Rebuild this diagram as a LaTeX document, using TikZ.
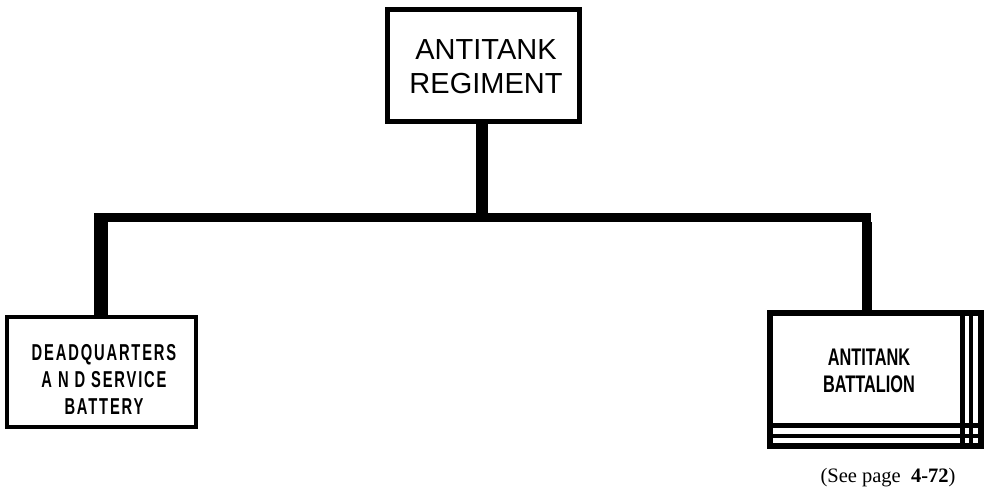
\documentclass[tikz,border=0pt]{standalone}
\usepackage{fontspec}
\setmainfont{Liberation Sans}
\newfontfamily\condA[FakeStretch=0.64,LetterSpace=8]{Liberation Sans Bold}
\newfontfamily\condB[FakeStretch=0.68]{Liberation Sans Bold}
\newfontfamily\serifnote{Liberation Serif}
\begin{document}
\begin{tikzpicture}[x=1pt,y=-1pt,
  unitbox/.style={draw=black, fill=white, rectangle, inner sep=0pt, align=center},
  label/.style={align=center, inner sep=0pt},
  conn/.style={draw=black, line cap=butt}]
\useasboundingbox (0,0) rectangle (986,488);
% boxes
\node[unitbox, line width=5pt, minimum width=192pt, minimum height=112pt] (reg) at (483.5,65.5) {};
\node[label, font=\fontsize{29}{34}\selectfont] (regtext) at (486,67) {ANTITANK\\REGIMENT};
\node[unitbox, line width=4pt, minimum width=189pt, minimum height=110pt] (hq) at (101.5,372) {};
\node[label, font=\condA\fontsize{23}{27}\selectfont] (hqtext) at (104,379) {DEADQUARTERS\\A N D SERVICE\\BATTERY};
\node[unitbox, line width=4pt, minimum width=209pt, minimum height=131pt] (bn) at (875.5,379.5) {};
\node[label, font=\condB\fontsize{24}{26.5}\selectfont] (bntext) at (869,371) {ANTITANK\\BATTALION};
% stacked-unit lines on the battalion box
\coordinate (v1) at (962.5,0);
\coordinate (v2) at (971,0);
\coordinate (h1) at (0,425.5);
\coordinate (h2) at (0,436);
\draw[line width=4.5pt] (v1 |- bn.north) -- (v1 |- bn.south);
\draw[line width=4.5pt] (v2 |- bn.north) -- (v2 |- bn.south);
\draw[line width=4.5pt] (bn.west |- h1) -- (bn.east |- h1);
\draw[line width=4.5pt] (bn.west |- h2) -- (bn.east |- h2);
\draw[line width=4.5pt] (bn.north west) rectangle (bn.south east);
% connectors
\coordinate (jc) at (482,217.5);
\coordinate (jl) at (101,217.5);
\coordinate (jr) at (867,217.5);
\draw[conn, line width=12pt] (reg.south -| jc) -- (jc);
\draw[conn, line width=9pt] ([xshift=-7pt]jl) -- ([xshift=4pt]jr);
\draw[conn, line width=14pt] ([yshift=-4.5pt]jl) -- (jl |- hq.north);
\draw[conn, line width=10pt] ([yshift=-4.5pt]jr) -- (jr |- bn.north);
% note
\node[font=\serifnote\fontsize{20.5}{24}\selectfont, anchor=base, inner sep=0pt] (note) at (888,482) {(See page\ \ \textbf{4-72})};
\end{tikzpicture}
\end{document}
